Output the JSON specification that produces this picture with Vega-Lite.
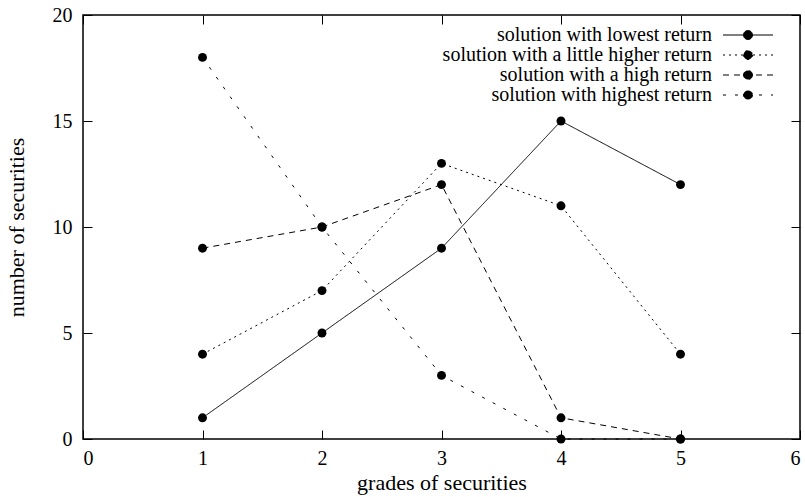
{
  "$schema": "https://vega.github.io/schema/vega-lite/v6.json",
  "width": 717,
  "height": 424,
  "autosize": {"type": "none"},
  "padding": {"left": 83, "top": 15, "right": 5, "bottom": 58},
  "config": {
    "font": "Liberation Serif",
    "view": {"stroke": "black", "strokeWidth": 1.5, "fill": null},
    "axis": {
      "domain": false,
      "grid": false,
      "ticks": true,
      "tickSize": 9,
      "tickColor": "#000000",
      "tickWidth": 1,
      "tickOpacity": 1,
      "offset": -9,
      "zindex": 1,
      "labelColor": "black",
      "labelFont": "Liberation Serif",
      "labelFontSize": 20,
      "titleFont": "Liberation Serif",
      "titleFontSize": 22,
      "titleFontWeight": "normal",
      "titleColor": "black"
    },
    "legend": {
      "labelFont": "Liberation Serif",
      "labelFontSize": 20,
      "labelColor": "black"
    }
  },
  "data": {
    "values": [
      {"grade": 1, "count": 1, "series": "solution with lowest return"},
      {"grade": 2, "count": 5, "series": "solution with lowest return"},
      {"grade": 3, "count": 9, "series": "solution with lowest return"},
      {"grade": 4, "count": 15, "series": "solution with lowest return"},
      {"grade": 5, "count": 12, "series": "solution with lowest return"},
      {"grade": 1, "count": 4, "series": "solution with a little higher return"},
      {"grade": 2, "count": 7, "series": "solution with a little higher return"},
      {"grade": 3, "count": 13, "series": "solution with a little higher return"},
      {"grade": 4, "count": 11, "series": "solution with a little higher return"},
      {"grade": 5, "count": 4, "series": "solution with a little higher return"},
      {"grade": 1, "count": 9, "series": "solution with a high return"},
      {"grade": 2, "count": 10, "series": "solution with a high return"},
      {"grade": 3, "count": 12, "series": "solution with a high return"},
      {"grade": 4, "count": 1, "series": "solution with a high return"},
      {"grade": 5, "count": 0, "series": "solution with a high return"},
      {"grade": 1, "count": 18, "series": "solution with  highest return"},
      {"grade": 2, "count": 10, "series": "solution with  highest return"},
      {"grade": 3, "count": 3, "series": "solution with  highest return"},
      {"grade": 4, "count": 0, "series": "solution with  highest return"},
      {"grade": 5, "count": 0, "series": "solution with  highest return"}
    ]
  },
  "layer": [
    {
      "mark": {"type": "line", "color": "black", "strokeWidth": 1},
      "encoding": {
        "x": {
          "field": "grade", "type": "quantitative",
          "scale": {"domain": [0, 6], "nice": false, "zero": false},
          "axis": {"orient": "bottom", "values": [0, 1, 2, 3, 4, 5, 6], "title": "grades of securities", "labelPadding": 9, "titlePadding": 4}
        },
        "y": {
          "field": "count", "type": "quantitative",
          "scale": {"domain": [0, 20], "nice": false},
          "axis": {"orient": "left", "values": [0, 5, 10, 15, 20], "title": "number of securities", "labelPadding": 11, "titlePadding": 24}
        },
        "strokeDash": {
          "field": "series", "type": "nominal",
          "scale": {
            "domain": ["solution with lowest return", "solution with a little higher return", "solution with a high return", "solution with  highest return"],
            "range": [[1, 0], [2, 4], [6, 5], [3, 9]]
          },
          "legend": {
            "title": null,
            "orient": "none",
            "legendX": 655,
            "legendY": 10,
            "symbolType": "M-5,0H5M0.9,0A0.9,0.9 0 1 1 -0.9,0A0.9,0.9 0 1 1 0.9,0Z",
            "symbolSize": 100,
            "symbolStrokeColor": "black",
            "symbolFillColor": "black",
            "symbolStrokeWidth": 1,
            "labelAlign": "right",
            "labelOffset": -46,
            "rowPadding": -8,
            "labelLimit": 450
          }
        },
        "order": {"field": "grade"}
      }
    },
    {
      "mark": {"type": "point", "filled": true, "color": "black", "opacity": 1, "size": 80},
      "encoding": {
        "x": {
          "field": "grade", "type": "quantitative",
          "axis": {"orient": "top", "values": [0, 1, 2, 3, 4, 5, 6], "labels": false, "title": null}
        },
        "y": {
          "field": "count", "type": "quantitative",
          "axis": {"orient": "right", "values": [0, 5, 10, 15, 20], "labels": false, "title": null}
        }
      }
    }
  ],
  "resolve": {"axis": {"x": "independent", "y": "independent"}}
}
